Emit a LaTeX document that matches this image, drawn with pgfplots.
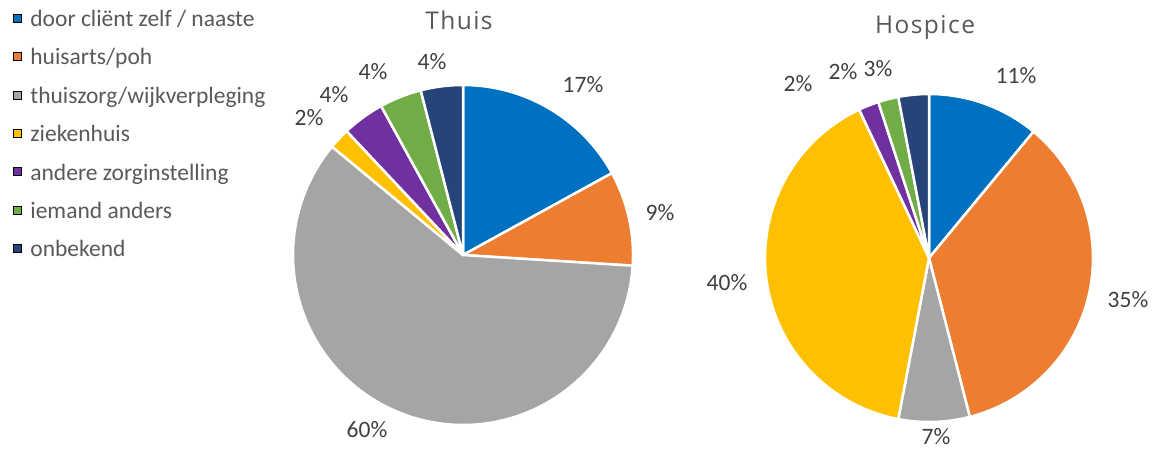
\documentclass[border=0pt]{standalone}
\usepackage{pgfplots}
\pgfplotsset{compat=1.18}
\usepackage{fontspec}
\setmainfont{Carlito}
\newfontfamily\titlefont[LetterSpace=6]{Open Sans}
\definecolor{c1}{HTML}{0070C0}
\definecolor{c2}{HTML}{ED7D31}
\definecolor{c3}{HTML}{A5A5A5}
\definecolor{c4}{HTML}{FFC000}
\definecolor{c5}{HTML}{7030A0}
\definecolor{c6}{HTML}{70AD47}
\definecolor{c7}{HTML}{264478}
\definecolor{txt}{HTML}{404040}
\definecolor{ttl}{HTML}{595959}
% slice: colour, cx, cy, r, cumulative start %, cumulative end %
\newcommand\slice[6]{%
  \addplot[forget plot, draw=white, line width=2.5pt, line join=round, fill=#1,
    domain={90-3.6*(#6)}:{90-3.6*(#5)}, samples=90, variable=\t]
    ({#2+#4*cos(\t)},{#3-#4*sin(\t)}) -- (axis cs:#2,#3) -- cycle;}
\begin{document}
\begin{tikzpicture}
\begin{axis}[
  width=1156pt, height=450pt, scale only axis,
  xmin=0, xmax=1156, ymin=0, ymax=450, y dir=reverse,
  hide axis, clip=false,
  legend cell align=left,
  legend style={at={(axis cs:13,10)}, anchor=north west, draw=none, fill=none,
    inner sep=0pt, outer sep=0pt,
    font=\fontsize{23.5}{27}\selectfont\color{ttl}, row sep=16.4pt, column sep=9pt,
    nodes={inner sep=0pt, text height=16.5pt, text depth=5.5pt}},
  legend image code/.code={\fill[#1] (0pt,-1pt) rectangle (8pt,7pt);},
]
% ---- Thuis: 17, 9, 60, 2, 4, 4, 4 ----
\slice{c1}{463}{255}{170}{0}{17}
\slice{c2}{463}{255}{170}{17}{26}
\slice{c3}{463}{255}{170}{26}{86}
\slice{c4}{463}{255}{170}{86}{88}
\slice{c5}{463}{255}{170}{88}{92}
\slice{c6}{463}{255}{170}{92}{96}
\slice{c7}{463}{255}{170}{96}{100}
% ---- Hospice: 11, 35, 7, 40, 2, 2, 3 ----
\slice{c1}{929}{258}{164}{0}{11}
\slice{c2}{929}{258}{164}{11}{46}
\slice{c3}{929}{258}{164}{46}{53}
\slice{c4}{929}{258}{164}{53}{93}
\slice{c5}{929}{258}{164}{93}{95}
\slice{c6}{929}{258}{164}{95}{97}
\slice{c7}{929}{258}{164}{97}{100}
% legend
\addlegendimage{fill=c1}\addlegendentry{door cliënt zelf / naaste}
\addlegendimage{fill=c2}\addlegendentry{huisarts/poh}
\addlegendimage{fill=c3}\addlegendentry{thuiszorg/wijkverpleging}
\addlegendimage{fill=c4}\addlegendentry{ziekenhuis}
\addlegendimage{fill=c5}\addlegendentry{andere zorginstelling}
\addlegendimage{fill=c6}\addlegendentry{iemand anders}
\addlegendimage{fill=c7}\addlegendentry{onbekend}
% titles
\node[font=\titlefont\fontsize{24.5}{28}\selectfont, text=ttl] at (axis cs:459,20) {Thuis};
\node[font=\titlefont\fontsize{24.5}{28}\selectfont, text=ttl] at (axis cs:925,27) {Hospice};
% data labels
\begin{scope}[every node/.style={font=\fontsize{23.5}{27}\selectfont, text=txt}]
\node at (axis cs:583,85) {17\%};
\node at (axis cs:660,213) {9\%};
\node at (axis cs:367,430) {60\%};
\node at (axis cs:309,118) {2\%};
\node at (axis cs:334,95) {4\%};
\node at (axis cs:373,72) {4\%};
\node at (axis cs:432,62) {4\%};
\node at (axis cs:1016,76) {11\%};
\node at (axis cs:1128,300) {35\%};
\node at (axis cs:936,437) {7\%};
\node at (axis cs:727,283) {40\%};
\node at (axis cs:798,84) {2\%};
\node at (axis cs:843,72) {2\%};
\node at (axis cs:878,69) {3\%};
\end{scope}
\end{axis}
\pgfresetboundingbox
\path (current axis.south west) rectangle (current axis.north east);
\end{tikzpicture}
\end{document}
